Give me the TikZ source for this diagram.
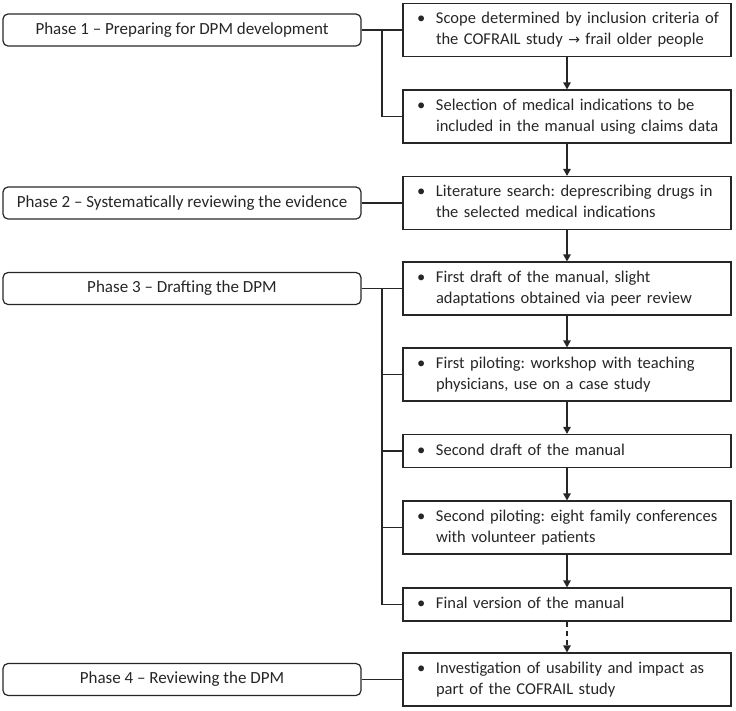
\documentclass[tikz,border=0pt]{standalone}
\usepackage{fontspec}
\setmainfont{Carlito}
\newfontfamily\symfont{DejaVu Sans}
\usetikzlibrary{arrows.meta,calc}
\newcommand{\twol}[2]{\begin{tabular}{@{}p{19pt}@{}l@{}}\textbullet & #1\\ & #2\end{tabular}}
\newcommand{\onel}[1]{\begin{tabular}{@{}p{19pt}@{}l@{}}\textbullet & #1\end{tabular}}
\begin{document}
\frenchspacing
\begin{tikzpicture}[x=1pt,y=-1pt,
  line width=1.2pt, draw=black!85,
  every node/.style={font=\fontsize{16.5}{21}\selectfont\frenchspacing, text=black!85},
  phasebox/.style={draw, rounded corners=5pt, minimum width=358pt, minimum height=32pt, inner sep=0pt, align=center, font=\fontsize{17}{21}\selectfont},
  stepbox/.style={draw, minimum width=328pt, text width=300pt, inner xsep=14pt, inner ysep=0pt, align=left},
  two/.style={minimum height=53pt},
  one/.style={minimum height=33pt},
  arr/.style={-{Triangle[width=7.5pt,length=7pt]}},
  darr/.style={arr, dash pattern=on 5pt off 4pt}]
\useasboundingbox (0,0) rectangle (736,710);

\node[stepbox,two] (b1) at (567,30) {\twol{Scope determined by inclusion criteria of}{the COFRAIL study {\symfont\fontsize{14}{21}\selectfont →} frail older people}};
\node[stepbox,two] (b2) at (567,116.5) {\twol{Selection of medical indications to be}{included in the manual using claims data}};
\node[stepbox,two] (b3) at (567,203) {\twol{Literature search: deprescribing drugs in}{the selected medical indications}};
\node[stepbox,two] (b4) at (567,288.5) {\twol{First draft of the manual, slight}{adaptations obtained via peer review}};
\node[stepbox,two] (b5) at (567,374.5) {\twol{First piloting: workshop with teaching}{physicians, use on a case study}};
\node[stepbox,one] (b6) at (567,451) {\onel{Second draft of the manual}};
\node[stepbox,two] (b7) at (567,527.5) {\twol{Second piloting: eight family conferences}{with volunteer patients}};
\node[stepbox,one] (b8) at (567,604.5) {\onel{Final version of the manual}};
\node[stepbox,two] (b9) at (567,679.5) {\twol{Investigation of usability and impact as}{part of the COFRAIL study}};

\node[phasebox] (p1) at (182,30) {Phase 1 -- Preparing for DPM development};
\node[phasebox] (p2) at (182,203) {Phase 2 -- Systematically reviewing the evidence};
\node[phasebox] (p3) at (182,288.5) {Phase 3 -- Drafting the DPM};
\node[phasebox] (p4) at (182,679.5) {Phase 4 -- Reviewing the DPM};

\draw[arr] (b1) -- (b2);
\draw[arr] (b2) -- (b3);
\draw[arr] (b3) -- (b4);
\draw[arr] (b4) -- (b5);
\draw[arr] (b5) -- (b6);
\draw[arr] (b6) -- (b7);
\draw[arr] (b7) -- (b8);
\draw[darr] (b8) -- (b9);

\coordinate (j1) at ($(p1.east)!0.5!(b1.west)$);
\coordinate (j3) at ($(p3.east)!0.5!(b4.west)$);
\draw (p1.east) -- (b1.west);
\draw (b2.west) -| (j1);
\draw (p2.east) -- (b3.west);
\draw (p3.east) -- (b4.west);
\draw (b8.west) -| (j3);
\draw (b5.west) -- (b5.west -| j3);
\draw (b6.west) -- (b6.west -| j3);
\draw (b7.west) -- (b7.west -| j3);
\draw (p4.east) -- (b9.west);
\end{tikzpicture}
\end{document}
